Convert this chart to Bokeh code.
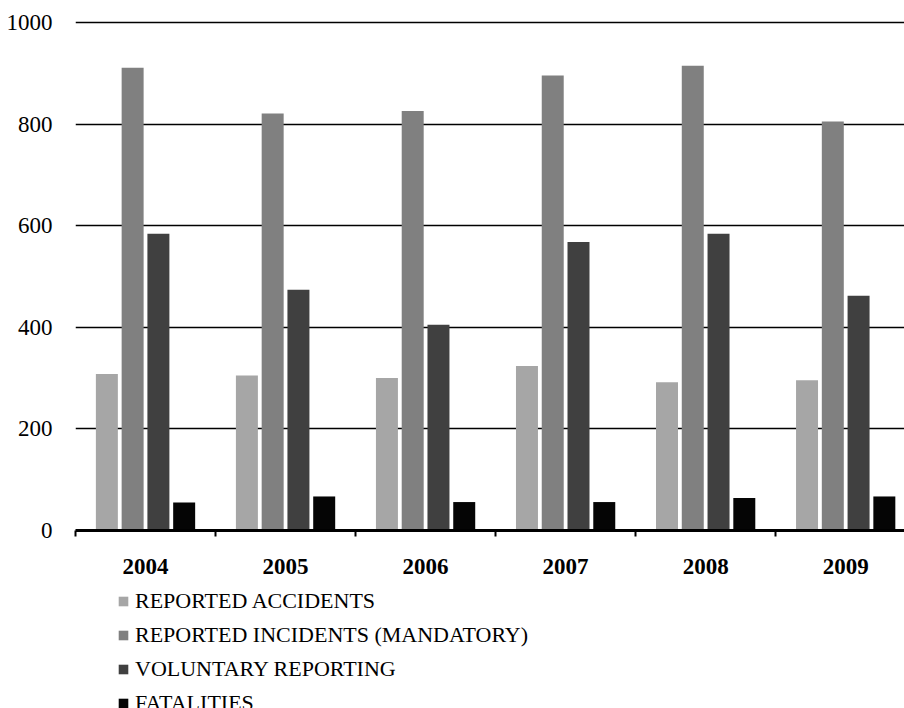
from bokeh.plotting import figure
from bokeh.layouts import column
from bokeh.models import Range1d, FixedTicker, Legend, LegendItem
from bokeh.embed import file_html
from bokeh.resources import INLINE

# Yearly aviation safety reporting figures
years = ["2004", "2005", "2006", "2007", "2008", "2009"]
accidents = [308, 305, 300, 324, 292, 296]
mandatory = [911, 821, 826, 896, 915, 805]
voluntary = [584, 474, 405, 568, 584, 462]
fatalities = [55, 67, 56, 56, 64, 67]

series_names = [
    "REPORTED ACCIDENTS",
    "REPORTED INCIDENTS (MANDATORY)",
    "VOLUNTARY REPORTING",
    "FATALITIES",
]
series_values = [accidents, mandatory, voluntary, fatalities]
series_colors = ["#a6a6a6", "#808080", "#404040", "#050505"]
y_ticks = [0, 200, 400, 600, 800, 1000]

FONT = "Liberation Serif"

p = figure(
    width=904, height=586,
    x_range=Range1d(0, 5.92), y_range=Range1d(0, 1010),
    output_backend="svg", toolbar_location=None,
    min_border_left=75, min_border_right=0,
    min_border_top=17, min_border_bottom=56,
)
p.outline_line_color = None
p.background_fill_color = "white"
p.border_fill_color = "white"

# one slot per year, four dodged bars per slot
centers = [i + 0.5 for i in range(len(years))]
bar_w = 0.157
step = 0.184
n = len(series_names)

for k, (vals, col) in enumerate(zip(series_values, series_colors)):
    off = (k - (n - 1) / 2) * step
    p.vbar(x=[c + off for c in centers], top=vals, width=bar_w,
           fill_color=col, line_color=None)

# x axis: year labels at slot centres, small ticks at slot boundaries
p.xaxis.ticker = FixedTicker(ticks=centers, minor_ticks=list(range(len(years) + 1)))
p.xaxis.major_label_overrides = {c: y for c, y in zip(centers, years)}
p.xaxis.major_tick_in = 0
p.xaxis.major_tick_out = 0
p.xaxis.minor_tick_in = 0
p.xaxis.minor_tick_out = 6
p.xaxis.minor_tick_line_width = 2
p.xaxis.minor_tick_line_color = "black"
p.xaxis.axis_line_width = 3
p.xaxis.axis_line_color = "black"
p.xaxis.major_label_text_font = FONT
p.xaxis.major_label_text_font_style = "bold"
p.xaxis.major_label_text_font_size = "23px"
p.xaxis.major_label_text_color = "black"
p.xaxis.major_label_standoff = 22

# y axis: labels only
p.yaxis.ticker = FixedTicker(ticks=y_ticks)
p.yaxis.axis_line_color = None
p.yaxis.major_tick_line_color = None
p.yaxis.minor_tick_line_color = None
p.yaxis.major_label_standoff = 17
p.yaxis.major_label_text_font = FONT
p.yaxis.major_label_text_font_size = "23px"
p.yaxis.major_label_text_color = "black"

p.xgrid.visible = False
p.ygrid.ticker = FixedTicker(ticks=y_ticks)
p.ygrid.grid_line_color = "black"
p.ygrid.grid_line_width = 1.3

# legend strip underneath the chart (swatch glyphs sit outside its ranges)
lg = figure(
    width=904, height=122, x_range=Range1d(0, 1), y_range=Range1d(0, 1),
    output_backend="svg", toolbar_location=None,
    x_axis_location=None, y_axis_location=None, min_border=0,
)
lg.outline_line_color = None
lg.xgrid.visible = False
lg.ygrid.visible = False

items = []
for name, col in zip(series_names, series_colors):
    r = lg.vbar(x=[-5], top=[0], width=0.1, fill_color=col, line_color=None)
    items.append(LegendItem(label=name, renderers=[r]))

legend = Legend(
    items=items, location=(42, -9), orientation="vertical",
    border_line_color=None, background_fill_alpha=0,
    padding=0, margin=0, spacing=6,
    label_height=28, glyph_height=12, glyph_width=12, label_standoff=6,
    label_text_font=FONT, label_text_font_size="22px", label_text_color="black",
)
lg.add_layout(legend)

layout = column(p, lg, spacing=0)
open("out.html", "w").write(file_html(layout, INLINE))
